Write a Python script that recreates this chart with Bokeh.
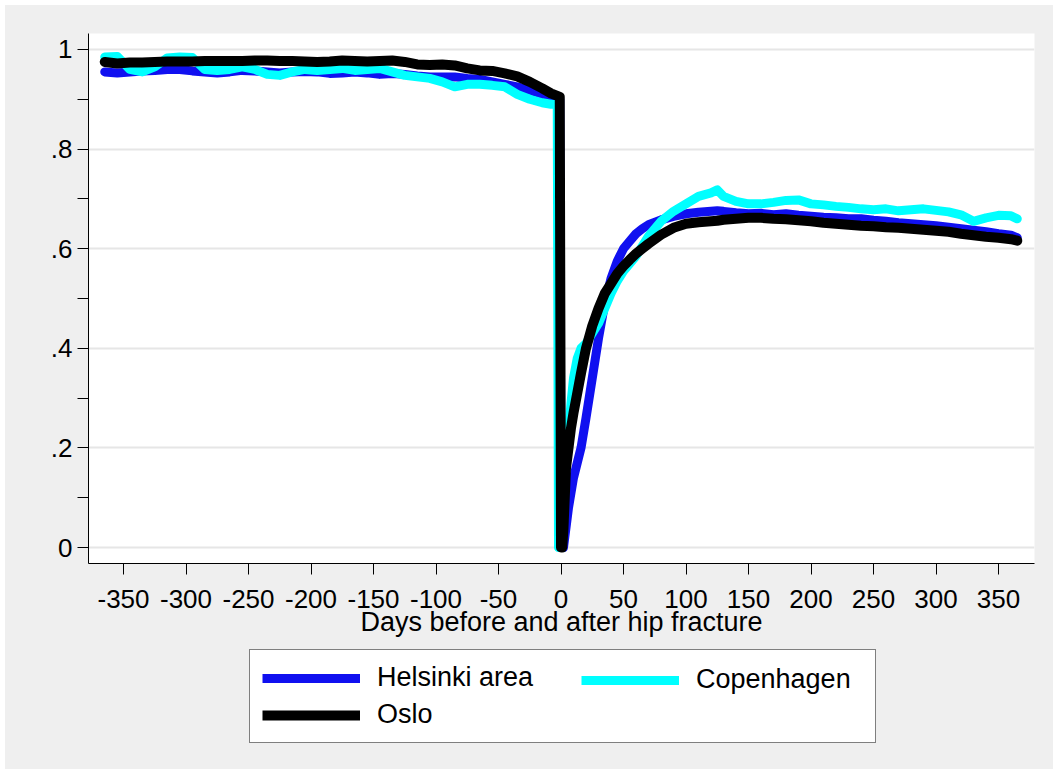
from bokeh.plotting import figure
from bokeh.layouts import column
from bokeh.models import Range1d, FixedTicker, Legend, LegendItem
from bokeh.embed import file_html
from bokeh.resources import INLINE

# ---------------- data ----------------
days = [-365, -355, -345, -335, -325, -315, -305, -295, -285, -275,
        -265, -255, -245, -235, -225, -215, -205, -195, -185, -175,
        -165, -155, -145, -135, -125, -115, -105, -95, -85, -75,
        -65, -55, -45, -35, -25, -15, -8, -3, -2, -1,
        0, 1, 2, 3, 4, 6, 8, 10, 13, 16,
        20, 25, 30, 35, 40, 45, 50, 55, 60, 65, 70,
        80, 90, 100, 110, 120, 125, 130,
        140, 150, 160, 170, 180, 190, 200, 210, 220, 230, 240, 250,
        260, 270, 280, 290, 300, 310, 320, 330, 340, 350, 360, 365]

helsinki = [0.955, 0.953, 0.955, 0.957, 0.958, 0.960, 0.960, 0.957, 0.955, 0.953,
            0.955, 0.958, 0.957, 0.955, 0.953, 0.955, 0.956, 0.955, 0.952, 0.953,
            0.955, 0.953, 0.950, 0.952, 0.950, 0.947, 0.945, 0.945, 0.945, 0.942,
            0.940, 0.935, 0.930, 0.925, 0.918, 0.910, 0.905, 0.900, 0.900, 0.900,
            0.0, 0.0, 0.0, 0.02, 0.04, 0.08, 0.11, 0.14, 0.17, 0.20,
            0.26, 0.34, 0.42, 0.49, 0.54, 0.575, 0.60, 0.615, 0.63, 0.64, 0.648,
            0.658, 0.665, 0.670, 0.673, 0.675, 0.676, 0.675,
            0.672, 0.670, 0.671, 0.668, 0.670, 0.667, 0.665, 0.663, 0.662, 0.660, 0.660, 0.657,
            0.655, 0.652, 0.650, 0.648, 0.646, 0.643, 0.640, 0.637, 0.634, 0.630, 0.627, 0.622]

copenhagen = [0.985, 0.986, 0.960, 0.955, 0.965, 0.983, 0.985, 0.984, 0.960, 0.958,
              0.960, 0.965, 0.960, 0.950, 0.948, 0.955, 0.960, 0.958, 0.960, 0.962,
              0.958, 0.960, 0.962, 0.955, 0.948, 0.945, 0.942, 0.935, 0.925, 0.930,
              0.930, 0.928, 0.925, 0.910, 0.900, 0.893, 0.890, 0.890, 0.0, 0.0,
              0.0, 0.0, 0.05, 0.12, 0.17, 0.23, 0.29, 0.34, 0.38, 0.40,
              0.41, 0.43, 0.45, 0.48, 0.51, 0.535, 0.555, 0.57, 0.585, 0.605, 0.625,
              0.655, 0.675, 0.690, 0.705, 0.712, 0.718, 0.705,
              0.695, 0.690, 0.690, 0.693, 0.697, 0.698, 0.690, 0.688, 0.685, 0.683, 0.680, 0.678,
              0.680, 0.676, 0.678, 0.680, 0.677, 0.674, 0.668, 0.655, 0.662, 0.667, 0.666, 0.660]

oslo = [0.975, 0.972, 0.974, 0.974, 0.975, 0.976, 0.976, 0.976, 0.977, 0.977,
        0.977, 0.977, 0.978, 0.978, 0.977, 0.977, 0.976, 0.975, 0.976, 0.978,
        0.977, 0.976, 0.977, 0.978, 0.975, 0.970, 0.969, 0.970, 0.968, 0.962,
        0.958, 0.957, 0.952, 0.946, 0.935, 0.922, 0.912, 0.907, 0.906, 0.905,
        0.0, 0.0, 0.04, 0.10, 0.16, 0.20, 0.24, 0.27, 0.31, 0.35,
        0.40, 0.445, 0.48, 0.51, 0.53, 0.55, 0.565, 0.578, 0.59, 0.60, 0.61,
        0.628, 0.642, 0.650, 0.653, 0.655, 0.656, 0.658,
        0.660, 0.662, 0.662, 0.660, 0.659, 0.657, 0.655, 0.652, 0.650, 0.648, 0.646, 0.645,
        0.643, 0.642, 0.640, 0.638, 0.636, 0.634, 0.630, 0.627, 0.624, 0.622, 0.619, 0.616]

series_names = ["Helsinki area", "Copenhagen", "Oslo"]
series_colors = ["#1010F0", "#00FFFF", "black"]

x_ticks = [-350, -300, -250, -200, -150, -100, -50, 0, 50, 100, 150, 200, 250, 300, 350]
x_tick_labels = ["-350", "-300", "-250", "-200", "-150", "-100", "-50", "0",
                 "50", "100", "150", "200", "250", "300", "350"]
y_ticks = [0.0, 0.1, 0.2, 0.3, 0.4, 0.5, 0.6, 0.7, 0.8, 0.9, 1.0]
y_tick_labels = ["0", "", ".2", "", ".4", "", ".6", "", ".8", "", "1"]
y_grid = [0.0, 0.2, 0.4, 0.6, 0.8, 1.0]
x_title = "Days before and after hip fracture"

FONT = "Liberation Sans"
BG = "#EFEFEF"
series = [helsinki, copenhagen, oslo]
widths = [9, 9, 10]

# ---------------- main chart ----------------
p = figure(width=1048, height=642, output_backend="svg", toolbar_location=None,
           x_range=Range1d(-378, 378.8), y_range=Range1d(-0.0321, 1.0321),
           min_border_left=83, min_border_right=19, min_border_top=28,
           min_border_bottom=84)
p.background_fill_color = "white"
p.border_fill_color = BG
p.outline_line_color = None

for vals, col, w in zip(series, series_colors, widths):
    p.line(days, vals, line_color=col, line_width=w,
           line_cap="round", line_join="round")

xa = p.xaxis[0]
xa.ticker = FixedTicker(ticks=x_ticks)
xa.major_label_overrides = {t: s for t, s in zip(x_ticks, x_tick_labels)}
xa.major_tick_out = 11
xa.major_tick_in = 0
xa.minor_tick_out = 0
xa.minor_tick_in = 0
xa.axis_line_color = "black"
xa.major_tick_line_color = "black"
xa.major_label_standoff = 15
xa.major_label_text_font = FONT
xa.major_label_text_font_size = "26px"
xa.major_label_text_color = "black"
xa.axis_label = x_title
xa.axis_label_text_font = FONT
xa.axis_label_text_font_size = "27px"
xa.axis_label_text_font_style = "normal"
xa.axis_label_text_color = "black"
xa.axis_label_standoff = -4

ya = p.yaxis[0]
ya.ticker = FixedTicker(ticks=y_ticks)
ya.major_label_overrides = {t: s for t, s in zip(y_ticks, y_tick_labels)}
ya.major_tick_out = 11
ya.major_tick_in = 0
ya.minor_tick_out = 0
ya.minor_tick_in = 0
ya.axis_line_color = "black"
ya.major_tick_line_color = "black"
ya.major_label_standoff = 5
ya.major_label_text_font = FONT
ya.major_label_text_font_size = "26px"
ya.major_label_text_color = "black"

p.xgrid.visible = False
p.ygrid.ticker = FixedTicker(ticks=y_grid)
p.ygrid.grid_line_color = "#E6E6E6"
p.ygrid.grid_line_width = 2

# ---------------- legend strip (same series, drawn out of view) ----------------
q = figure(width=1048, height=122, output_backend="svg", toolbar_location=None,
           x_range=Range1d(-378, 378.8), y_range=Range1d(5, 6),
           x_axis_type=None, y_axis_type=None,
           min_border_left=83, min_border_right=19, min_border_top=0,
           min_border_bottom=0)
q.background_fill_alpha = 0.0
q.border_fill_color = BG
q.outline_line_color = None
q.xgrid.visible = False
q.ygrid.visible = False

rs = []
for vals, col, w in zip(series, series_colors, widths):
    rs.append(q.line(days, vals, line_color=col, line_width=w,
                     line_cap="butt", line_join="round"))

common = dict(padding=12, spacing=6, glyph_width=98, glyph_height=30,
              label_standoff=17, label_text_font=FONT,
              label_text_font_size="27px", label_text_color="black",
              orientation="vertical", margin=0)
leg1 = Legend(items=[LegendItem(label=series_names[0], renderers=[rs[0]]),
                     LegendItem(label=series_names[2], renderers=[rs[2]])],
              location=(161, 26), label_width=486,
              border_line_color="black", border_line_width=1,
              background_fill_color="white", background_fill_alpha=1.0,
              **common)
leg2 = Legend(items=[LegendItem(label=series_names[1], renderers=[rs[1]])],
              location=(493, 74),
              border_line_color=None, background_fill_alpha=0.0,
              **common)
q.add_layout(leg1, "center")
q.add_layout(leg2, "center")

layout = column(p, q, spacing=0, margin=(5, 0, 0, 5),
                styles={"background-color": BG})
open("out.html", "w").write(file_html(layout, INLINE))
